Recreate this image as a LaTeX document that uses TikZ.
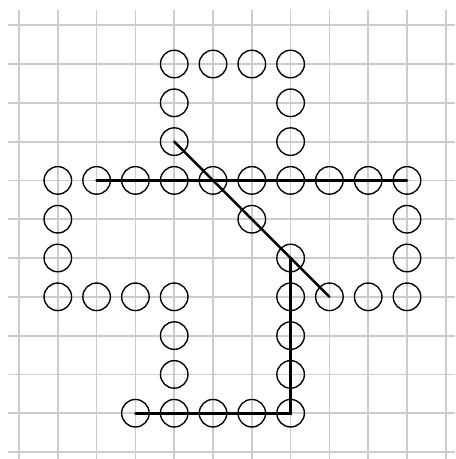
\documentclass[tikz,border=0pt]{standalone}
\usepackage{tikz}

\begin{document}
\begin{tikzpicture}[x=1cm, y=1cm,
    ring/.style={circle, draw, line width=1pt, minimum size=0.71cm, inner sep=0pt},
    path/.style={line width=1.9pt, line cap=round}]
    \useasboundingbox (-0.49,-0.18) rectangle (11.24,11.65);
    \draw[gray!40, line width=1.3pt] (-0.28,-0.18) grid (11.24,11.39);
    % circles on the grid points
    \foreach \i/\j in {4/10,5/10,6/10,7/10,4/9,7/9,4/8,7/8,
        1/7,2/7,3/7,4/7,5/7,6/7,7/7,8/7,9/7,10/7,
        1/6,10/6,6/6,1/5,7/5,10/5,
        1/4,2/4,3/4,4/4,7/4,8/4,9/4,10/4,
        4/3,7/3,4/2,7/2,3/1,4/1,5/1,6/1,7/1}
        \node[ring] (c-\i-\j) at (\i,\j) {};
    \draw[path] (c-2-7.center) -- (c-10-7.center);
    \draw[path] (c-4-8.center) -- (c-8-4.center);
    \draw[path] (c-7-5.center) -- (c-7-1.center) -- (c-3-1.center);
\end{tikzpicture}
\end{document}
